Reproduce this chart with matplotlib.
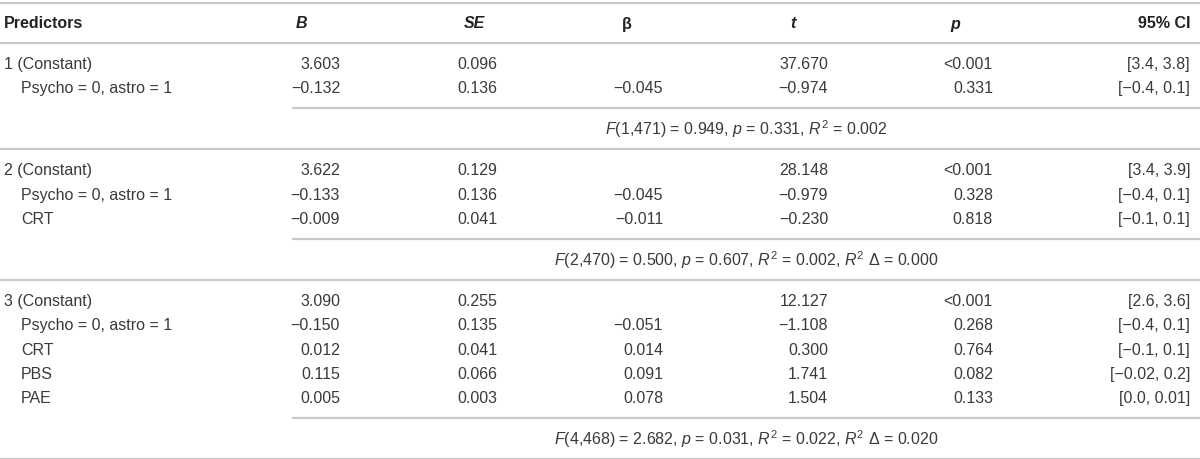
import matplotlib
matplotlib.use("Agg")
import matplotlib.pyplot as plt

plt.rcParams['font.family'] = ['Liberation Sans', 'DejaVu Sans']
plt.rcParams['mathtext.fontset'] = 'custom'
plt.rcParams['mathtext.rm'] = 'Liberation Sans'
plt.rcParams['mathtext.it'] = 'Liberation Sans:italic'

# table content
headers = ["Predictors", "B", "SE", "β", "t", "p", "95% CI"]
header_italic = [False, True, True, False, True, True, False]

block1_labels = ["1 (Constant)", "Psycho = 0, astro = 1"]
block1_B = ["3.603", "−0.132"]
block1_SE = ["0.096", "0.136"]
block1_beta = ["", "−0.045"]
block1_t = ["37.670", "−0.974"]
block1_p = ["<0.001", "0.331"]
block1_ci = ["[3.4, 3.8]", "[−0.4, 0.1]"]
block1_fit = "$F$(1,471) = 0.949, $p$ = 0.331, $R^2$ = 0.002"

block2_labels = ["2 (Constant)", "Psycho = 0, astro = 1", "CRT"]
block2_B = ["3.622", "−0.133", "−0.009"]
block2_SE = ["0.129", "0.136", "0.041"]
block2_beta = ["", "−0.045", "−0.011"]
block2_t = ["28.148", "−0.979", "−0.230"]
block2_p = ["<0.001", "0.328", "0.818"]
block2_ci = ["[3.4, 3.9]", "[−0.4, 0.1]", "[−0.1, 0.1]"]
block2_fit = "$F$(2,470) = 0.500, $p$ = 0.607, $R^2$ = 0.002, $R^2$ Δ = 0.000"

block3_labels = ["3 (Constant)", "Psycho = 0, astro = 1", "CRT", "PBS", "PAE"]
block3_B = ["3.090", "−0.150", "0.012", "0.115", "0.005"]
block3_SE = ["0.255", "0.135", "0.041", "0.066", "0.003"]
block3_beta = ["", "−0.051", "0.014", "0.091", "0.078"]
block3_t = ["12.127", "−1.108", "0.300", "1.741", "1.504"]
block3_p = ["<0.001", "0.268", "0.764", "0.082", "0.133"]
block3_ci = ["[2.6, 3.6]", "[−0.4, 0.1]", "[−0.1, 0.1]", "[−0.02, 0.2]", "[0.0, 0.01]"]
block3_fit = "$F$(4,468) = 2.682, $p$ = 0.031, $R^2$ = 0.022, $R^2$ Δ = 0.020"

blocks = [
    (block1_labels, block1_B, block1_SE, block1_beta, block1_t, block1_p, block1_ci, block1_fit),
    (block2_labels, block2_B, block2_SE, block2_beta, block2_t, block2_p, block2_ci, block2_fit),
    (block3_labels, block3_B, block3_SE, block3_beta, block3_t, block3_p, block3_ci, block3_fit),
]

# layout (pixel coordinates)
W, H = 1200, 459
header_x = [4, 301, 474, 627, 793, 955, 1190]
value_right = [340, 497, 663, 828, 993, 1190]
short_line_x = 292
row_h = 24.3
txt_color = "#3a3a3a"
line_color = "#c8c8c8"
fs = 11.5

fig = plt.figure(figsize=(W / 100, H / 100), dpi=100)
ax = fig.add_axes([0, 0, 1, 1])
ax.set_xlim(0, W)
ax.set_ylim(H, 0)
ax.axis("off")

def hline(y, x0=0, x1=W):
    ax.plot([x0, x1], [y, y], color=line_color, lw=1.6, solid_capstyle="butt")

hline(3)
for i, h in enumerate(headers):
    ha = "left" if i == 0 else ("right" if i == len(headers) - 1 else "center")
    ax.text(header_x[i], 24, h, ha=ha, va="center", fontsize=fs, fontweight="bold",
            style="italic" if header_italic[i] else "normal", color="#222222")
hline(43)

y = 43
for labels, B, SE, beta, t, p, ci, fit in blocks:
    y += 21.5
    for j, lab in enumerate(labels):
        indent = 4 if j == 0 else 21
        ax.text(indent, y, lab, ha="left", va="center", fontsize=fs, color=txt_color)
        for k, col in enumerate([B, SE, beta, t, p, ci]):
            if col[j]:
                ax.text(value_right[k], y, col[j], ha="right", va="center",
                        fontsize=fs, color=txt_color)
        y += row_h
    y -= row_h
    y += 19.5
    hline(y, short_line_x, W)
    ax.text((short_line_x + W) / 2, y + 21, fit, ha="center", va="center",
            fontsize=fs, color=txt_color)
    y += 41
    hline(y)

fig.savefig("out.png", dpi=100)
